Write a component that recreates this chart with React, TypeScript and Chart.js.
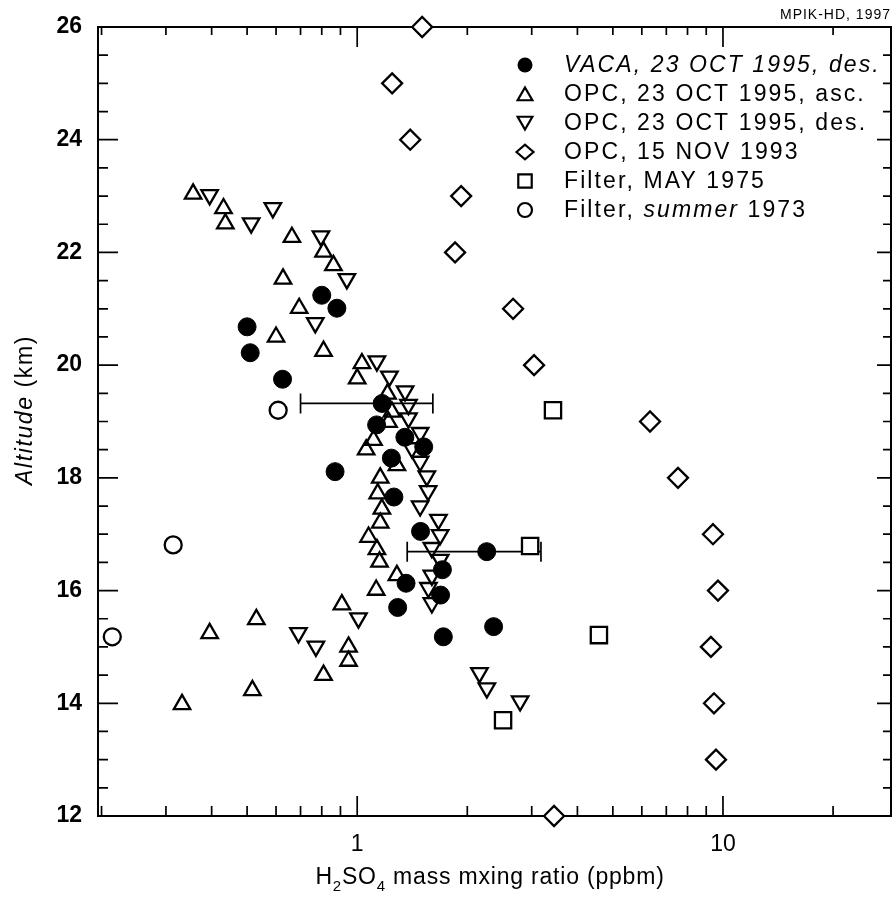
import React, { useEffect, useRef } from "react";
import { Chart, registerables } from "chart.js";

Chart.register(...registerables);

// ---------------- data ----------------
const VACA_X = [0.5, 0.51, 0.625, 0.8, 0.88, 1.17, 1.13, 1.35, 1.52, 1.24, 0.87, 1.26, 1.49, 2.26, 1.71, 1.36, 1.69, 1.29, 2.36, 1.72];
const VACA_ALT = [20.68, 20.22, 19.75, 21.24, 21.01, 19.32, 18.94, 18.72, 18.55, 18.35, 18.11, 17.66, 17.05, 16.69, 16.37, 16.13, 15.92, 15.7, 15.36, 15.18];

const VACA_ERR_ALT = [19.32, 16.69];
const VACA_ERR_LOW = [0.7, 1.37];
const VACA_ERR_HIGH = [1.61, 3.18];

const ASC_X = [0.356, 0.431, 0.436, 0.663, 0.809, 0.861, 0.627, 0.694, 0.6, 0.809, 1.03, 1.0, 1.21, 1.244, 1.218, 1.108, 1.058, 1.284, 1.156, 1.138, 1.168, 1.156, 1.074, 1.132, 1.151, 1.284, 1.127, 0.908, 0.53, 0.395, 0.947, 0.947, 0.809, 0.517, 0.332];
const ASC_ALT = [23.04, 22.78, 22.51, 22.27, 22.01, 21.77, 21.53, 21.01, 20.5, 20.25, 20.03, 19.76, 19.49, 19.17, 18.99, 18.67, 18.5, 18.22, 18.0, 17.72, 17.45, 17.2, 16.95, 16.73, 16.51, 16.27, 16.01, 15.75, 15.49, 15.24, 15.0, 14.75, 14.5, 14.23, 13.98];

const DES_X = [0.395, 0.588, 0.513, 0.796, 0.937, 0.768, 1.132, 1.225, 1.352, 1.381, 1.381, 1.486, 1.411, 1.486, 1.55, 1.563, 1.486, 1.668, 1.686, 1.6, 1.686, 1.6, 1.566, 1.6, 1.008, 0.691, 0.771, 2.159, 2.262, 2.789];
const DES_ALT = [23.02, 22.79, 22.52, 22.29, 21.53, 20.75, 20.07, 19.8, 19.54, 19.3, 19.06, 18.8, 18.53, 18.29, 18.03, 17.77, 17.5, 17.26, 16.99, 16.76, 16.55, 16.27, 16.05, 15.78, 15.51, 15.25, 15.01, 14.54, 14.27, 14.04];

const NOV93_X = [1.505, 1.246, 1.396, 1.924, 1.852, 2.668, 3.045, 6.318, 7.535, 9.39, 9.69, 9.27, 9.45, 9.57, 3.453];
const NOV93_ALT = [26, 25, 24, 23, 22, 21, 20, 19, 18, 17, 16, 15, 14, 13, 12];

const MAY75_X = [3.43, 2.97, 4.58, 2.505];
const MAY75_ALT = [19.2, 16.79, 15.21, 13.7];

const SUM73_X = [0.608, 0.314, 0.214];
const SUM73_ALT = [19.2, 16.81, 15.18];

// axes
const X_MIN = 0.1956;
const X_MAX = 28.8;
const Y_MIN = 12;
const Y_MAX = 26;
const X_MAJOR = [1, 10];
const X_MINOR = [0.2, 0.3, 0.4, 0.5, 0.6, 0.7, 0.8, 0.9, 2, 3, 4, 5, 6, 7, 8, 9, 20];
const Y_MAJOR = [12, 14, 16, 18, 20, 22, 24, 26];
const Y_MINOR = [12.5, 13, 13.5, 14.5, 15, 15.5, 16.5, 17, 17.5, 18.5, 19, 19.5, 20.5, 21, 21.5, 22.5, 23, 23.5, 24.5, 25, 25.5];

// legend labels: [text, italic]
const LEGEND_ITEMS: { style: string; fill: boolean; parts: [string, boolean][] }[] = [
  { style: "circle", fill: true, parts: [["VACA, 23 OCT 1995, des.", true]] },
  { style: "triangle", fill: false, parts: [["OPC, 23 OCT 1995, asc.", false]] },
  { style: "triangleDown", fill: false, parts: [["OPC, 23 OCT 1995, des.", false]] },
  { style: "rectRot", fill: false, parts: [["OPC, 15 NOV 1993", false]] },
  { style: "rect", fill: false, parts: [["Filter, MAY 1975", false]] },
  { style: "circle", fill: false, parts: [["Filter, ", false], ["summer", true], [" 1973", false]] },
];

const Y_TITLE: [string, boolean][] = [["Altitude", true], [" (km)", false]];
const CREDIT = "MPIK-HD, 1997";

const FONT = "'Liberation Sans', Arial, Helvetica, sans-serif";
const W = 893;
const H = 897;

const pts = (xs: number[], ys: number[]) => xs.map((x, i) => ({ x, y: ys[i] }));

function setLS(ctx: any, v: number) {
  if ("letterSpacing" in ctx) ctx.letterSpacing = v + "px";
}

function drawMarker(ctx: CanvasRenderingContext2D, style: string, x: number, y: number, r: number, fill: boolean) {
  ctx.beginPath();
  if (style === "circle") {
    ctx.arc(x, y, r, 0, Math.PI * 2);
  } else if (style === "triangle") {
    ctx.moveTo(x, y - r);
    ctx.lineTo(x + r * 0.866, y + r * 0.5);
    ctx.lineTo(x - r * 0.866, y + r * 0.5);
    ctx.closePath();
  } else if (style === "triangleDown") {
    ctx.moveTo(x, y + r);
    ctx.lineTo(x + r * 0.866, y - r * 0.5);
    ctx.lineTo(x - r * 0.866, y - r * 0.5);
    ctx.closePath();
  } else if (style === "rectRot") {
    ctx.moveTo(x - r, y);
    ctx.lineTo(x, y - r * 0.85);
    ctx.lineTo(x + r, y);
    ctx.lineTo(x, y + r * 0.85);
    ctx.closePath();
  } else if (style === "rect") {
    const s = r * 0.7071;
    ctx.rect(x - s, y - s, 2 * s, 2 * s);
  }
  if (fill) {
    ctx.fillStyle = "#000";
    ctx.fill();
  } else {
    ctx.fillStyle = "#fff";
    ctx.fill();
    ctx.stroke();
  }
}

function drawParts(ctx: CanvasRenderingContext2D, parts: [string, boolean][], x: number, y: number, size: number, ls: number) {
  let cx = x;
  for (const [t, it] of parts) {
    ctx.font = `${it ? "italic " : ""}${size}px ${FONT}`;
    setLS(ctx, ls);
    ctx.fillText(t, cx, y);
    cx += ctx.measureText(t).width;
  }
  return cx - x;
}

function measureParts(ctx: CanvasRenderingContext2D, parts: [string, boolean][], size: number, ls: number) {
  let w = 0;
  for (const [t, it] of parts) {
    ctx.font = `${it ? "italic " : ""}${size}px ${FONT}`;
    setLS(ctx, ls);
    w += ctx.measureText(t).width;
  }
  return w;
}

const decorPlugin = {
  id: "decor",
  beforeDatasetsDraw(chart: any) {
    const { ctx, chartArea: a, scales } = chart;
    const xs = scales.x;
    const ys = scales.y;
    ctx.save();
    ctx.strokeStyle = "#000";
    ctx.lineWidth = 2;
    ctx.strokeRect(a.left, a.top, a.right - a.left, a.bottom - a.top);
    ctx.lineWidth = 1.7;
    ctx.beginPath();
    for (const v of Y_MAJOR) {
      const p = ys.getPixelForValue(v);
      ctx.moveTo(a.left, p);
      ctx.lineTo(a.left + 20, p);
      ctx.moveTo(a.right, p);
      ctx.lineTo(a.right - 14, p);
    }
    for (const v of Y_MINOR) {
      const p = ys.getPixelForValue(v);
      ctx.moveTo(a.left, p);
      ctx.lineTo(a.left + 10, p);
      ctx.moveTo(a.right, p);
      ctx.lineTo(a.right - 8, p);
    }
    for (const v of X_MAJOR) {
      const p = xs.getPixelForValue(v);
      ctx.moveTo(p, a.bottom);
      ctx.lineTo(p, a.bottom - 20);
      ctx.moveTo(p, a.top);
      ctx.lineTo(p, a.top + 20);
    }
    for (const v of X_MINOR) {
      const p = xs.getPixelForValue(v);
      ctx.moveTo(p, a.bottom);
      ctx.lineTo(p, a.bottom - 10);
      ctx.moveTo(p, a.top);
      ctx.lineTo(p, a.top + 8);
    }
    ctx.stroke();
    // error bars
    ctx.lineWidth = 1.7;
    ctx.beginPath();
    VACA_ERR_ALT.forEach((alt, i) => {
      const y = ys.getPixelForValue(alt);
      const x1 = xs.getPixelForValue(VACA_ERR_LOW[i]);
      const x2 = xs.getPixelForValue(VACA_ERR_HIGH[i]);
      ctx.moveTo(x1, y);
      ctx.lineTo(x2, y);
      ctx.moveTo(x1, y - 10);
      ctx.lineTo(x1, y + 10);
      ctx.moveTo(x2, y - 10);
      ctx.lineTo(x2, y + 10);
    });
    ctx.stroke();
    ctx.restore();
  },
  afterDraw(chart: any) {
    const { ctx } = chart;
    ctx.save();
    ctx.fillStyle = "#000";
    ctx.strokeStyle = "#000";
    // legend
    ctx.lineWidth = 2.2;
    LEGEND_ITEMS.forEach((it, i) => {
      const y = 65 + i * 29;
      const r = it.style === "circle" ? (it.fill ? 7.5 : 7) : it.style === "rect" ? 9.5 : 8.5;
      drawMarker(ctx, it.style, 525, it.style === "triangle" ? y + 2 : it.style === "triangleDown" ? y - 2 : y, r, it.fill);
      ctx.fillStyle = "#000";
      ctx.textBaseline = "middle";
      ctx.textAlign = "left";
      drawParts(ctx, it.parts, 564, y + 1, 23, 2.1);
    });
    // y title
    ctx.save();
    ctx.translate(32, 410);
    ctx.rotate(-Math.PI / 2);
    ctx.textBaseline = "alphabetic";
    ctx.textAlign = "left";
    const wy = measureParts(ctx, Y_TITLE, 23, 1.6);
    drawParts(ctx, Y_TITLE, -wy / 2, 0, 23, 1.6);
    ctx.restore();
    // x title with subscripts
    ctx.textBaseline = "alphabetic";
    ctx.textAlign = "left";
    const segs: [string, boolean][] = [["H", false], ["2", true], ["SO", false], ["4", true], [" mass mxing ratio (ppbm)", false]];
    let total = 0;
    for (const [t, sub] of segs) {
      ctx.font = `${sub ? 15 : 23}px ${FONT}`;
      setLS(ctx, 0.8);
      total += ctx.measureText(t).width;
    }
    let cx = 490 - total / 2;
    for (const [t, sub] of segs) {
      ctx.font = `${sub ? 15 : 23}px ${FONT}`;
      setLS(ctx, 0.8);
      ctx.fillText(t, cx, sub ? 891 : 884);
      cx += ctx.measureText(t).width;
    }
    // credit
    ctx.font = `14px ${FONT}`;
    setLS(ctx, 1);
    ctx.textAlign = "right";
    ctx.textBaseline = "middle";
    ctx.fillText(CREDIT, 891, 15);
    setLS(ctx, 0);
    ctx.restore();
  },
};

export default function App() {
  const ref = useRef<HTMLCanvasElement | null>(null);
  useEffect(() => {
    if (!ref.current) return;
    const common = { showLine: false, clip: false as any, borderColor: "#000", borderWidth: 2.3 };
    const chart = new Chart(ref.current, {
      type: "scatter",
      data: {
        datasets: [
          { ...common, label: "VACA, 23 OCT 1995, des.", data: pts(VACA_X, VACA_ALT), pointStyle: "circle", pointRadius: 9, backgroundColor: "#000", borderWidth: 1 },
          { ...common, label: "OPC, 23 OCT 1995, asc.", data: pts(ASC_X, ASC_ALT), pointStyle: "triangle", pointRadius: 9.5, backgroundColor: "rgba(0,0,0,0)" },
          { ...common, label: "OPC, 23 OCT 1995, des.", data: pts(DES_X, DES_ALT), pointStyle: "triangle", rotation: 180, pointRadius: 9.5, backgroundColor: "rgba(0,0,0,0)" },
          { ...common, label: "OPC, 15 NOV 1993", data: pts(NOV93_X, NOV93_ALT), pointStyle: "rectRot", pointRadius: 10, backgroundColor: "#fff" },
          { ...common, label: "Filter, MAY 1975", data: pts(MAY75_X, MAY75_ALT), pointStyle: "rect", pointRadius: 11.5, backgroundColor: "#fff" },
          { ...common, label: "Filter, summer 1973", data: pts(SUM73_X, SUM73_ALT), pointStyle: "circle", pointRadius: 8.5, backgroundColor: "#fff" },
        ] as any,
      },
      options: {
        responsive: false,
        devicePixelRatio: 1,
        animation: false,
        events: [],
        layout: { autoPadding: false, padding: { top: 27, right: 2, left: 0, bottom: 0 } },
        plugins: { legend: { display: false }, tooltip: { enabled: false }, title: { display: false } },
        scales: {
          x: {
            type: "logarithmic",
            position: "bottom",
            min: X_MIN,
            max: X_MAX,
            bounds: "data",
            afterBuildTicks: (s: any) => {
              s.ticks = X_MAJOR.map((v) => ({ value: v }));
            },
            afterFit: (s: any) => {
              s.height = 81;
              s.paddingLeft = 0;
              s.paddingRight = 0;
            },
            grid: { display: false, drawTicks: false },
            border: { display: false },
            ticks: {
              color: "#000",
              autoSkip: false,
              maxRotation: 0,
              padding: 15,
              font: { family: FONT, size: 23 },
              callback: (v: any) => String(v),
            },
          },
          y: {
            type: "linear",
            position: "left",
            min: Y_MIN,
            max: Y_MAX,
            bounds: "data",
            afterBuildTicks: (s: any) => {
              s.ticks = Y_MAJOR.map((v) => ({ value: v }));
            },
            afterFit: (s: any) => {
              s.width = 98;
              s.paddingTop = 0;
              s.paddingBottom = 0;
            },
            grid: { display: false, drawTicks: false },
            border: { display: false },
            ticks: {
              color: "#000",
              padding: 16,
              font: { family: FONT, size: 23, weight: "bold" },
              callback: (v: any) => String(v),
            },
          },
        },
      } as any,
      plugins: [decorPlugin as any],
    });
    return () => chart.destroy();
  }, []);
  return (
    <div style={{ position: "absolute", left: 0, top: 0, width: W, height: H, background: "#fff" }}>
      <canvas ref={ref} width={W} height={H} style={{ display: "block", width: W, height: H }} />
    </div>
  );
}
